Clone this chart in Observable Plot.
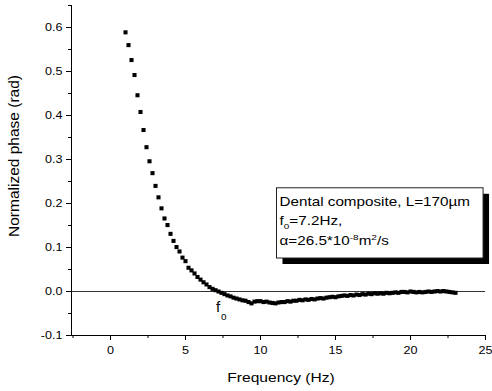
<!DOCTYPE html>
<html><head><meta charset="utf-8">
<script src="https://cdn.jsdelivr.net/npm/d3@7"></script>
<script src="https://cdn.jsdelivr.net/npm/@observablehq/plot@0.6"></script>
<style>
body{margin:0;background:#fff}
#chart svg{display:block}
</style>
</head><body><div id="chart"></div>
<script>
const frequency = [
  1.0,1.2,1.4,1.6,1.8,2.0,2.2,2.4,2.6,2.8,3.0,3.2,3.4,3.6,3.8,4.0,4.2,4.4,4.6,4.8,
  5.0,5.2,5.4,5.6,5.8,6.0,6.2,6.4,6.6,6.8,7.0,7.2,7.4,7.6,7.8,8.0,8.2,8.4,8.6,8.8,
  9.0,9.2,9.4,9.6,9.8,10.0,10.2,10.4,10.6,10.8,11.0,11.2,11.4,11.6,11.8,12.0,12.2,12.4,12.6,12.8,
  13.0,13.2,13.4,13.6,13.8,14.0,14.2,14.4,14.6,14.8,15.0,15.2,15.4,15.6,15.8,16.0,16.2,16.4,16.6,16.8,
  17.0,17.2,17.4,17.6,17.8,18.0,18.2,18.4,18.6,18.8,19.0,19.2,19.4,19.6,19.8,20.0,20.2,20.4,20.6,20.8,
  21.0,21.2,21.4,21.6,21.8,22.0,22.2,22.4,22.6,22.8,23.0
];
const phase = [
  0.589,0.560,0.526,0.492,0.446,0.408,0.367,0.328,0.296,0.269,0.240,0.214,0.189,0.166,0.151,0.131,0.115,0.101,0.091,0.077,
  0.069,0.054,0.048,0.041,0.033,0.027,0.021,0.016,0.010,0.006,0.003,0.000,-0.003,-0.006,-0.009,-0.011,-0.014,-0.016,-0.018,-0.020,
  -0.021,-0.024,-0.027,-0.023,-0.022,-0.022,-0.024,-0.023,-0.025,-0.026,-0.027,-0.025,-0.024,-0.024,-0.022,-0.023,-0.021,-0.021,-0.019,-0.020,
  -0.018,-0.019,-0.017,-0.018,-0.016,-0.015,-0.016,-0.014,-0.013,-0.012,-0.013,-0.011,-0.010,-0.009,-0.010,-0.008,-0.009,-0.007,-0.008,-0.006,
  -0.007,-0.005,-0.006,-0.004,-0.005,-0.004,-0.005,-0.003,-0.004,-0.003,-0.002,-0.003,-0.001,-0.001,-0.002,0.000,-0.001,-0.002,-0.001,-0.002,
  -0.001,0.000,-0.001,0.000,0.001,0.000,0.001,0.000,-0.001,-0.002,-0.003
];
const xMajorTicks = [0, 5, 10, 15, 20, 25];
const xMinorTicks = [-2.5, 2.5, 7.5, 12.5, 17.5, 22.5];
const yMajorTicks = [-0.1, 0.0, 0.1, 0.2, 0.3, 0.4, 0.5, 0.6];
const yMinorTicks = [-0.05, 0.05, 0.15, 0.25, 0.35, 0.45, 0.55, 0.65];
const xTitle = "Frequency (Hz)";
const yTitle = "Normalized phase (rad)";
const f0 = 7.2;

const data = frequency.map((f, i) => ({f, p: phase[i]}));
const FONT = "'Liberation Sans', Arial, sans-serif";
const STRETCH = 1.2;

const chart = Plot.plot({
  width: 492, height: 391,
  marginLeft: 71, marginRight: 7, marginTop: 5, marginBottom: 56,
  style: {fontFamily: FONT, fontSize: "10.5px", color: "#000", background: "#fff", overflow: "visible"},
  x: {domain: [-2.6, 25]},
  y: {domain: [-0.1, 0.65]},
  marks: [
    Plot.ruleY([0], {stroke: "#333", strokeWidth: 1}),
    Plot.axisX(xMajorTicks, {tickSize: 5, tickPadding: 6, tickFormat: d => String(d), label: null, fontSize: 10.5}),
    Plot.axisX(xMinorTicks, {tickSize: 3, tickFormat: () => "", label: null}),
    Plot.axisY(yMajorTicks, {tickSize: 5, tickPadding: 4, tickFormat: d => d.toFixed(1), label: null, fontSize: 10.5}),
    Plot.axisY(yMinorTicks, {tickSize: 3, tickFormat: () => "", label: null}),
    Plot.frame({anchor: "left", stroke: "#000"}),
    Plot.frame({anchor: "bottom", stroke: "#000"}),
    Plot.dot(data, {x: "f", y: "p", symbol: "square", r: 2.3, fill: "#000", stroke: "none"})
  ]
});

// stretch tick labels horizontally like the reference
chart.querySelectorAll('[aria-label$="tick label"] text').forEach(t => {
  const tr = t.getAttribute("transform") || "";
  t.setAttribute("transform", tr + ` scale(${STRETCH},1)`);
});

const sx = chart.scale("x"), sy = chart.scale("y");
const svg = d3.select(chart);
const ann = svg.append("g").attr("font-family", FONT).attr("fill", "#000").attr("text-anchor", "start");

// axis titles
ann.append("text")
  .attr("transform", `translate(${(sx.apply(-2.6) + sx.apply(25)) / 2 + 3},382) scale(${STRETCH},1)`)
  .attr("text-anchor", "middle").attr("font-size", 13).text(xTitle);
ann.append("text")
  .attr("transform", `translate(19,${(sy.apply(-0.1) + sy.apply(0.65)) / 2 - 14}) rotate(-90)`)
  .attr("text-anchor", "middle").attr("font-size", 15.5).text(yTitle);

// f_o label at f0
const fx = sx.apply(f0), fy = sy.apply(0);
ann.append("text").attr("x", fx - 2).attr("y", fy + 21).attr("font-size", 15).text("f");
ann.append("text").attr("x", fx + 3).attr("y", fy + 29).attr("font-size", 10).text("o");

// legend box with shadow
const bx1 = sx.apply(11.1), bx2 = sx.apply(24.87);
const by1 = sy.apply(0.2346), by2 = sy.apply(0.075);
const sh = 6;
ann.append("rect").attr("x", bx1 + sh).attr("y", by1 + sh).attr("width", bx2 - bx1).attr("height", by2 - by1).attr("fill", "#000");
ann.append("rect").attr("x", bx1).attr("y", by1).attr("width", bx2 - bx1).attr("height", by2 - by1)
  .attr("fill", "#fff").attr("stroke", "#222").attr("stroke-width", 1);

const tx = bx1 + 3;
const lineBase = [by1 + 18, by1 + 37, by1 + 57];
const l1 = ann.append("text").attr("transform", `translate(${tx},${lineBase[0]}) scale(1.25,1)`).attr("font-size", 12.2);
l1.text("Dental composite, L=170\u00b5m");
const l2 = ann.append("text").attr("transform", `translate(${tx},${lineBase[1]}) scale(1.25,1)`).attr("font-size", 12.2);
l2.append("tspan").text("f");
l2.append("tspan").attr("dy", 4).attr("font-size", 8).text("0");
l2.append("tspan").attr("dy", -4).text("=7.2Hz,");
const l3 = ann.append("text").attr("transform", `translate(${tx},${lineBase[2]}) scale(1.25,1)`).attr("font-size", 12.2);
l3.append("tspan").text("\u03b1=26.5*10");
l3.append("tspan").attr("dy", -5).attr("font-size", 8).text("-8");
l3.append("tspan").attr("dy", 5).text("m");
l3.append("tspan").attr("dy", -5).attr("font-size", 8).text("2");
l3.append("tspan").attr("dy", 5).text("/s");

document.getElementById("chart").appendChild(chart);
</script>
</body></html>
